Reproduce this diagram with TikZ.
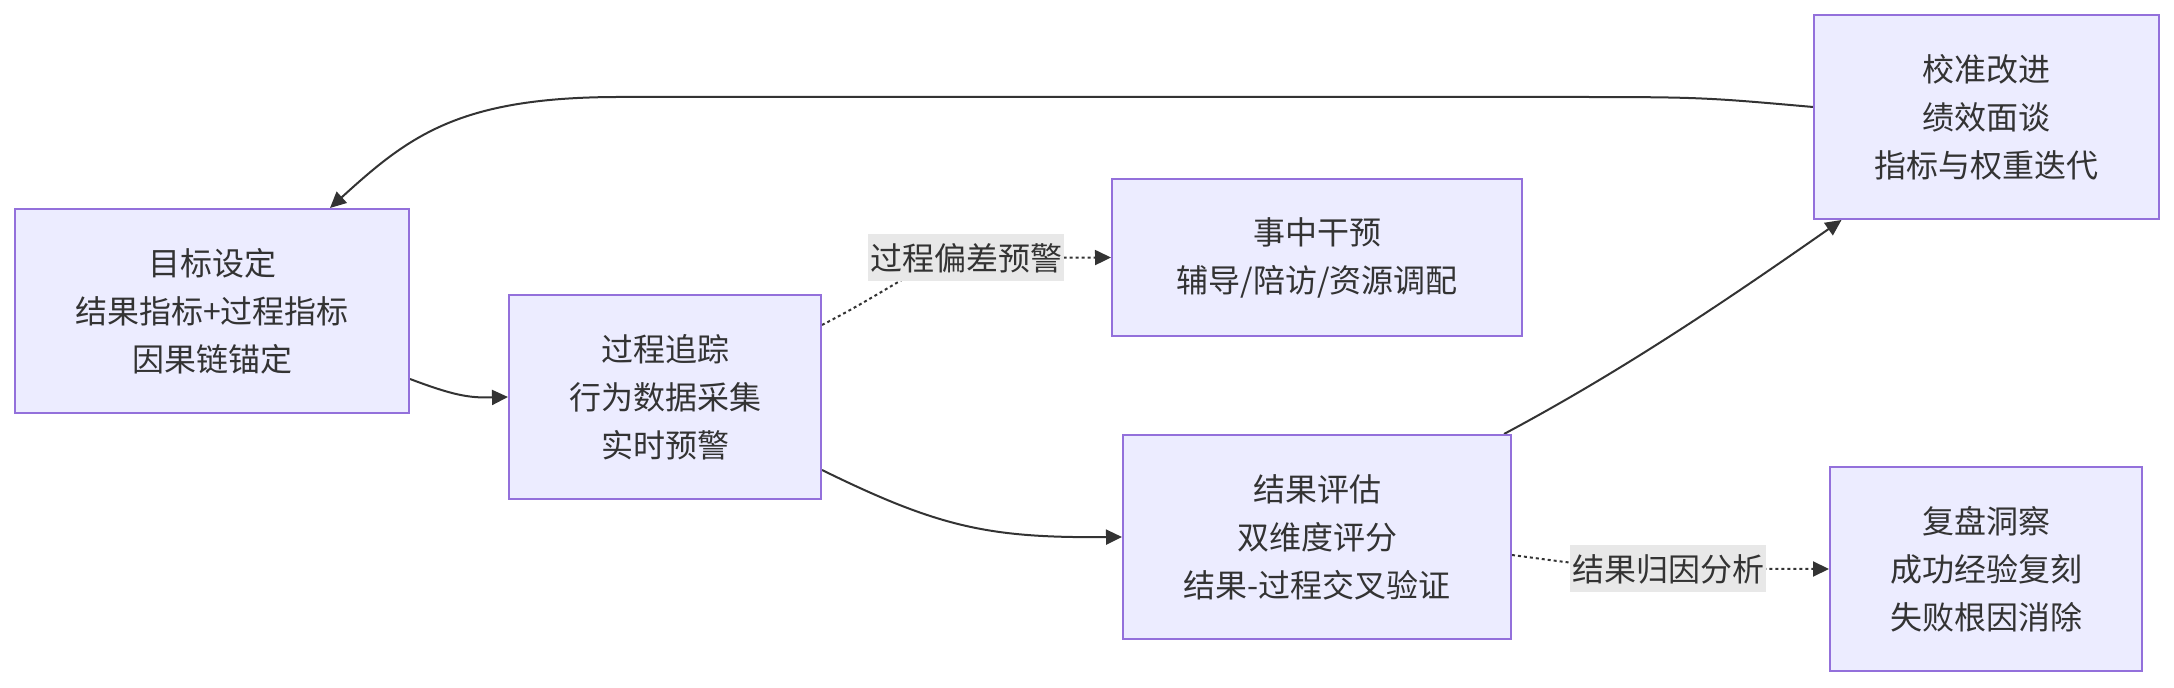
\documentclass[tikz,border=0pt]{standalone}
\usepackage{fontspec}
\setmainfont{Noto Sans CJK SC}
\usetikzlibrary{arrows.meta,calc}
\definecolor{nodefill}{HTML}{ECECFF}
\definecolor{nodeborder}{HTML}{9370DB}
\definecolor{ink}{HTML}{333333}
\definecolor{lblbg}{HTML}{E8E8E8}
\pgfdeclarelayer{bg}
\pgfsetlayers{bg,main}
\begin{document}
\begin{tikzpicture}[x=0.5pt,y=-0.5pt,
 box/.style={draw=nodeborder, fill=nodefill, line width=1pt, align=center, font=\fontsize{16}{24}\selectfont, text=ink, inner sep=0pt},
 lbl/.style={fill=lblbg, font=\fontsize{16}{24}\selectfont, text=ink, inner sep=1pt, minimum height=23.5pt},
 flow/.style={draw=ink, line width=1pt, -{Triangle[length=8pt,width=7.5pt]}},
 dotflow/.style={flow, dash pattern=on 1.5pt off 1.5pt}]
\useasboundingbox (0,0) rectangle (2174,688);
\node[box, minimum width=197pt, minimum height=102pt] (A) at (212,311) {目标设定\\结果指标+过程指标\\因果链锚定};
\node[box, minimum width=156pt, minimum height=102pt] (B) at (665,397) {过程追踪\\行为数据采集\\实时预警};
\node[box, minimum width=205pt, minimum height=78.5pt] (C) at (1317,257.5) {事中干预\\辅导/陪访/资源调配};
\node[box, minimum width=194pt, minimum height=102pt] (D) at (1317,537) {结果评估\\双维度评分\\结果-过程交叉验证};
\node[box, minimum width=172.5pt, minimum height=102pt] (E) at (1986.5,117) {校准改进\\绩效面谈\\指标与权重迭代};
\node[box, minimum width=156pt, minimum height=102pt] (F) at (1986,569) {复盘洞察\\成功经验复刻\\失败根因消除};
\coordinate (L1) at (966,258);
\coordinate (L2) at (1668,569);
\begin{pgfonlayer}{bg}
\draw[flow] ($(A.east)+(0,68)$) .. controls (455,396) and (470,398) .. (B.west);
\draw[dotflow] ($(B.east)+(0,-72)$) .. controls (900,285) and (925,258) .. (L1) -- (C.west);
\draw[flow] ($(B.east)+(0,73)$) .. controls (940,528) and (990,538) .. (D.west);
\draw[flow] ($(D.north)+(187,0)$) .. controls (1620,372) and (1720,305) .. ($(E.south)+(-145,0)$);
\draw[flow] ($(E.west)+(0,-10)$) .. controls (1700,97) .. (1550,97) -- (620,97) .. controls (460,97) and (410,135) .. ($(A.north)+(118,0)$);
\draw[dotflow] ($(D.east)+(0,18)$) .. controls (1565,562) and (1610,569) .. (L2) -- (F.west);
\end{pgfonlayer}
\node[lbl] (T1) at (L1) {过程偏差预警};
\node[lbl] (T2) at (L2) {结果归因分析};
\end{tikzpicture}
\end{document}
